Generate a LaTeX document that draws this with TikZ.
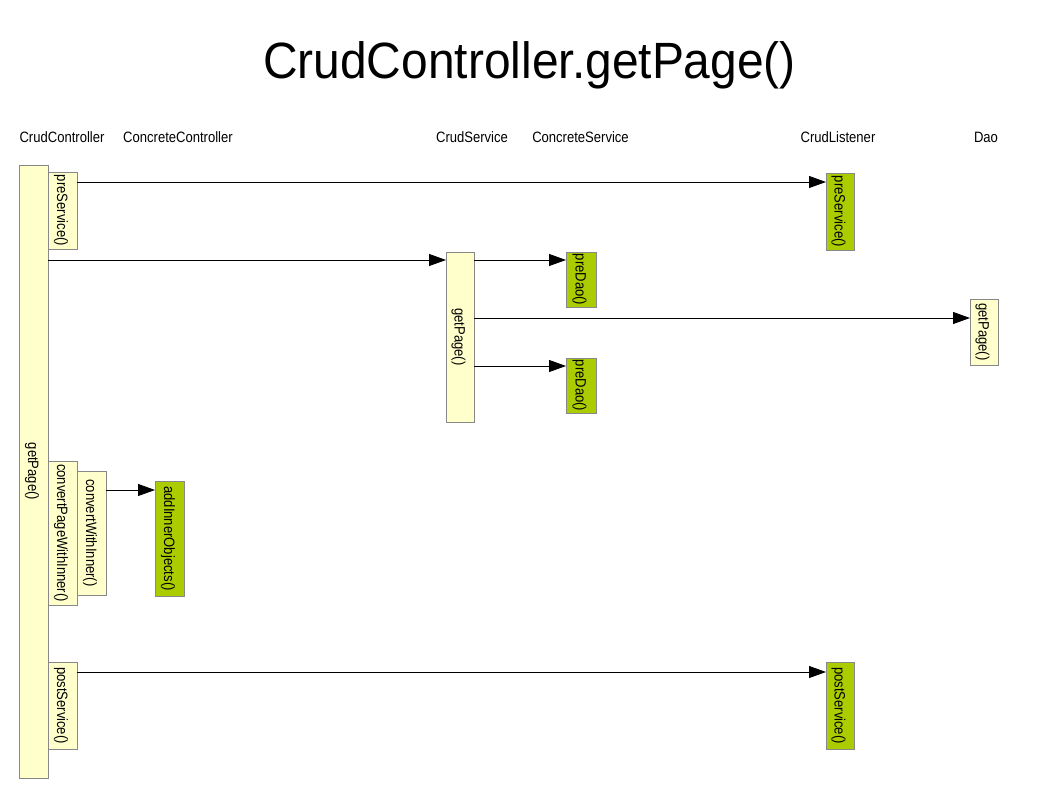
\documentclass[tikz,border=0pt]{standalone}
\usepackage{fontspec}
\setmainfont{Liberation Sans}
\usetikzlibrary{arrows.meta}
\definecolor{actyellow}{HTML}{FFFFCC}
\definecolor{actgreen}{HTML}{AACC00}
\definecolor{actborder}{HTML}{888888}
\newcommand\nar[1]{\scalebox{0.87}[1]{#1}}
\newcommand\actbox[7]{%
  \node[#6, minimum width={#4-#2}, minimum height={#5-#3}] (#1) at ({(#2+#4)/2},{(#3+#5)/2}) {};
  \node[lbl] (#1-t) at ([xshift=-1.5pt]#1.center) {\nar{#7}};}
\begin{document}
\begin{tikzpicture}[x=1pt,y=-1pt,
  act/.style={draw=actborder, line width=0.9pt, inner sep=0pt, outer sep=0pt},
  ybox/.style={act, fill=actyellow},
  gbox/.style={act, fill=actgreen},
  lbl/.style={rotate=-90, inner sep=0pt, font=\fontsize{15}{17}\selectfont},
  head/.style={anchor=base, inner sep=0pt, font=\fontsize{15}{17}\selectfont},
  msg/.style={draw=black, line width=0.9pt, -{Triangle[length=17pt,width=12pt]}}]
\useasboundingbox (0,0) rectangle (1058,794);
\fill[white] (0,0) rectangle (1058,794);
\node[anchor=base, inner sep=0pt, font=\fontsize{51}{56}\selectfont] (title) at (529.5,79) {\scalebox{0.94}[1]{CrudController.getPage()}};
\node[head] (h1) at (62,143) {\nar{CrudController}};
\node[head] (h2) at (178,143) {\nar{ConcreteController}};
\node[head] (h3) at (472,143) {\nar{CrudService}};
\node[head] (h4) at (580.5,143) {\nar{ConcreteService}};
\node[head] (h5) at (838,143) {\nar{CrudListener}};
\node[head] (h6) at (986,143) {\nar{Dao}};
\actbox{main}{19}{165}{48}{778}{ybox}{getPage()}
\actbox{ps1}{48}{172}{77}{249}{ybox}{preService()}
\actbox{cpwi}{48}{461}{77}{605}{ybox}{convertPageWithInner()}
\actbox{cwi}{77}{471}{106}{595}{ybox}{convertWithInner()}
\actbox{aio}{155}{481}{184}{596}{gbox}{addInnerObjects()}
\actbox{pos1}{48}{662}{77}{749}{ybox}{postService()}
\actbox{sgp}{446}{252}{474}{422}{ybox}{getPage()}
\actbox{pd1}{566}{252}{596}{307}{gbox}{preDao()}
\actbox{pd2}{566}{358}{596}{413}{gbox}{preDao()}
\actbox{lps}{826}{173}{854}{250}{gbox}{preService()}
\actbox{dgp}{970}{299}{998}{365}{ybox}{getPage()}
\actbox{lpos}{826}{662}{854}{749}{gbox}{postService()}
\draw[msg] (ps1.east |- 0,182) -- (lps.west |- 0,182);
\draw[msg] (main.east |- 0,260) -- (sgp.west |- 0,260);
\draw[msg] (sgp.east |- 0,260) -- (pd1.west |- 0,260);
\draw[msg] (sgp.east |- 0,318) -- (dgp.west |- 0,318);
\draw[msg] (sgp.east |- 0,366) -- (pd2.west |- 0,366);
\draw[msg] (cwi.east |- 0,490) -- (aio.west |- 0,490);
\draw[msg] (pos1.east |- 0,672) -- (lpos.west |- 0,672);
\end{tikzpicture}
\end{document}
